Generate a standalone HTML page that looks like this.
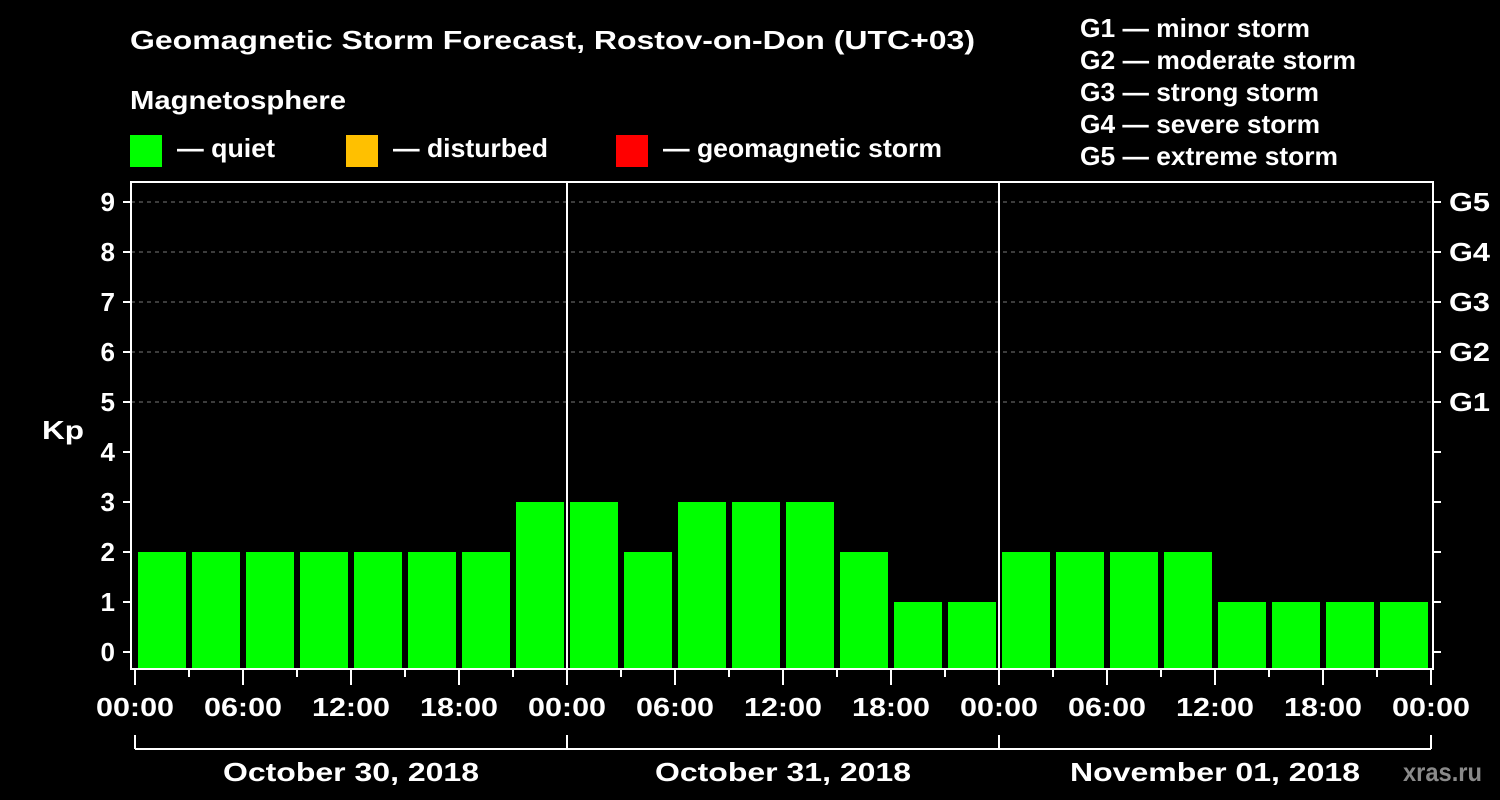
<!DOCTYPE html>
<html><head><meta charset="utf-8"><style>
html,body{margin:0;padding:0;background:#000;width:1500px;height:800px;overflow:hidden}
svg text{font-family:"Liberation Sans",sans-serif;font-weight:bold;fill:#fff}
</style></head><body>
<svg id="c" width="1500" height="800" xmlns="http://www.w3.org/2000/svg">
<text x="130" y="49" font-size="26" textLength="845" lengthAdjust="spacingAndGlyphs">Geomagnetic Storm Forecast, Rostov-on-Don (UTC+03)</text>
<text x="130" y="109" font-size="26" textLength="216" lengthAdjust="spacingAndGlyphs">Magnetosphere</text>
<g><rect x="130" y="135" width="32" height="32" fill="#00ff00"/><text x="177" y="157" font-size="26" textLength="98" lengthAdjust="spacingAndGlyphs">— quiet</text></g>
<g><rect x="346" y="135" width="32" height="32" fill="#ffc000"/><text x="393" y="157" font-size="26" textLength="155" lengthAdjust="spacingAndGlyphs">— disturbed</text></g>
<g><rect x="616" y="135" width="32" height="32" fill="#ff0000"/><text x="663" y="157" font-size="26" textLength="279" lengthAdjust="spacingAndGlyphs">— geomagnetic storm</text></g>
<g font-size="26">
<text x="1080" y="37" textLength="230" lengthAdjust="spacingAndGlyphs">G1 — minor storm</text>
<text x="1080" y="69" textLength="276" lengthAdjust="spacingAndGlyphs">G2 — moderate storm</text>
<text x="1080" y="101" textLength="239" lengthAdjust="spacingAndGlyphs">G3 — strong storm</text>
<text x="1080" y="133" textLength="240" lengthAdjust="spacingAndGlyphs">G4 — severe storm</text>
<text x="1080" y="165" textLength="258" lengthAdjust="spacingAndGlyphs">G5 — extreme storm</text>
</g>
<g id="plot"></g>
<text x="1403" y="781" font-size="26" textLength="79" lengthAdjust="spacingAndGlyphs" style="fill:#8a8a8a">xras.ru</text>
</svg>
<script>
const kpValues=[2,2,2,2,2,2,2,3, 3,2,3,3,3,2,1,1, 2,2,2,2,1,1,1,1];
const dayLabels=["October 30, 2018","October 31, 2018","November 01, 2018"];
const hourLabels=["00:00","06:00","12:00","18:00"];
const yTicks=[0,1,2,3,4,5,6,7,8,9];
const gLabels=["G1","G2","G3","G4","G5"];
const gLevels=[5,6,7,8,9];

const NS="http://www.w3.org/2000/svg";
const g=document.getElementById('plot');
const X0=135,X1=1431,Y0=652,PER=50,AXB=669,TOP=182;
const slot=(X1-X0)/kpValues.length;
const xs=i=>X0+i*slot;
const ys=v=>Y0-v*PER;
function mk(t,a,p){const e=document.createElementNS(NS,t);for(const k in a)e.setAttribute(k,a[k]);(p||g).appendChild(e);return e;}
gLevels.forEach(v=>{const l=mk('line',{x1:131,x2:1433,y1:ys(v),y2:ys(v),stroke:'#777','stroke-dasharray':'4,4','stroke-width':1});

});
kpValues.forEach((v,i)=>{const col=v>=5?'#ff0000':(v>=4?'#ffc000':'#00ff00');
const r=mk('rect',{x:xs(i)+3,y:ys(v),width:slot-6,height:AXB-1-ys(v),fill:col});

});
const fr=mk('rect',{x:131,y:TOP,width:1302,height:AXB-TOP,fill:'none',stroke:'#fff','stroke-width':2});


for(let d=1;d<dayLabels.length;d++){const l=mk('line',{x1:xs(d*8),x2:xs(d*8),y1:TOP,y2:AXB,stroke:'#fff','stroke-width':2});

}
yTicks.forEach(v=>{mk('line',{x1:123,x2:131,y1:ys(v),y2:ys(v),stroke:'#fff','stroke-width':2});
mk('line',{x1:1433,x2:1441,y1:ys(v),y2:ys(v),stroke:'#fff','stroke-width':2});
const t=mk('text',{x:115,y:ys(v)+9,'font-size':26,'text-anchor':'end'});t.textContent=v;

});
gLabels.forEach((s,i)=>{const t=mk('text',{x:1449,y:ys(gLevels[i])+9,'font-size':26,textLength:41,lengthAdjust:'spacingAndGlyphs'});t.textContent=s;

});
const kp=mk('text',{x:42,y:439,'font-size':26,textLength:42,lengthAdjust:'spacingAndGlyphs'});kp.textContent='Kp';


for(let i=0;i<=kpValues.length;i++){const major=i%2===0;
mk('line',{x1:xs(i),x2:xs(i),y1:AXB,y2:AXB+(major?16:8),stroke:'#fff','stroke-width':2});
if(major){const t=mk('text',{x:xs(i)-39,y:716,'font-size':26,textLength:78,lengthAdjust:'spacingAndGlyphs'});t.textContent=hourLabels[(i/2)%4];

}}
mk('line',{x1:X0,x2:X1,y1:749,y2:749,stroke:'#fff','stroke-width':2});
for(let d=0;d<=dayLabels.length;d++)mk('line',{x1:xs(d*8),x2:xs(d*8),y1:735,y2:749,stroke:'#fff','stroke-width':2});
dayLabels.forEach((s,d)=>{const w=s.length>16?290:256;const t=mk('text',{x:xs(d*8+4)-w/2,y:781,'font-size':26,textLength:w,lengthAdjust:'spacingAndGlyphs'});t.textContent=s;

});
</script>
</body></html>
